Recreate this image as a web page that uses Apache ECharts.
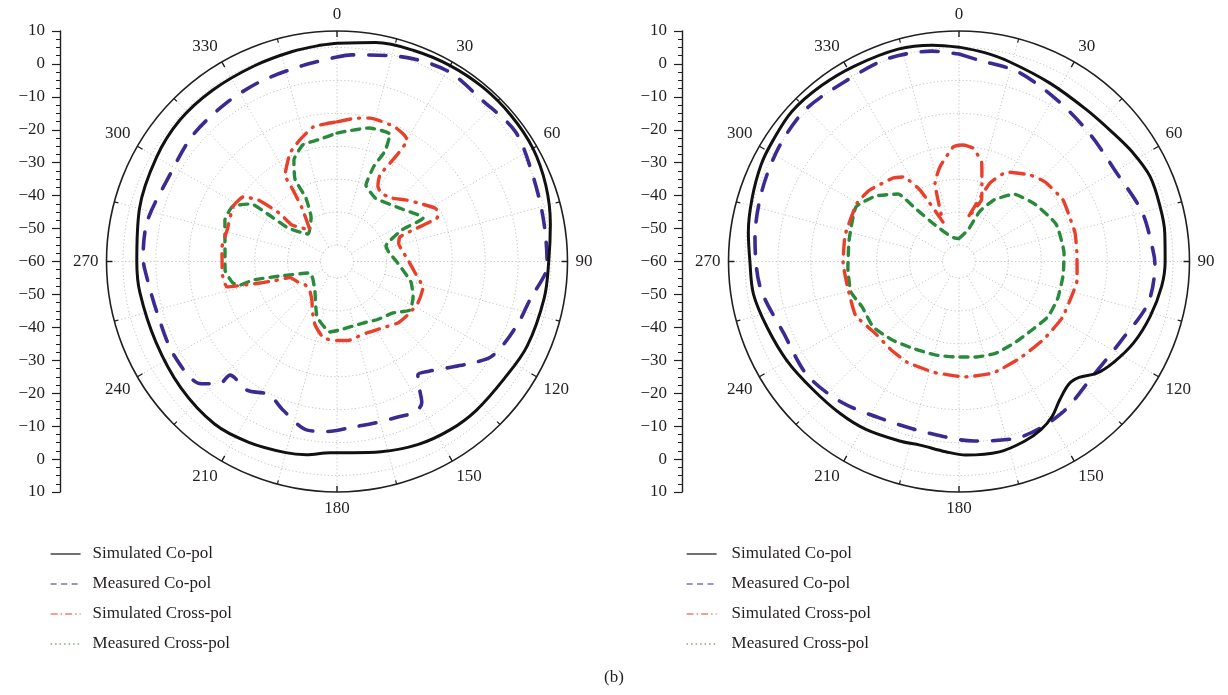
<!DOCTYPE html>
<html>
<head>
<meta charset="utf-8">
<script src="https://cdn.jsdelivr.net/npm/echarts@6/dist/echarts.min.js"></script>
<style>
  html, body { margin: 0; padding: 0; background: #ffffff; }
  #chart { width: 1228px; height: 695px; }
</style>
</head>
<body>
<div id="chart"></div>
<script>
// Radiation patterns: each point is [angle in degrees, level in dB]
// Left pattern
const leftSimCo = [[0,6.3],[10,7.5],[20,8.2],[30,8.7],[40,9.0],[50,9.0],[60,8.7],[70,7.5],[80,5.8],[90,4.3],[100,3.9],[114,3.2],[125,2.0],[137,1.9],[146,1.6],[156,0.8],[167,-0.7],[176,-1.8],[182,-1.9],[189,-0.6],[195,0.1],[206,1.1],[217,1.8],[231,1.0],[246,0.2],[261,0.6],[270,0.8],[285,2.1],[300,3.3],[312,4.2],[324,4.3],[337,4.5],[348,5.2],[356,5.9],[360,6.3]];
const leftMeasCo = [[0,2.1],[4,2.9],[17,5.1],[30,6.9],[42,5.9],[54,7.0],[66,5.0],[78,4.0],[90,3.8],[93,3.5],[101,-0.2],[108,-1.7],[116,-3.4],[122,-5.1],[128,-9.5],[134,-13.5],[140,-16.5],[144.5,-17.7],[146.5,-15.1],[149,-10],[152.6,-8.5],[158.6,-9.3],[166.8,-9.6],[174.5,-9.5],[183,-8.3],[190,-8.0],[200,-12],[207,-14.6],[215,-12.3],[223.3,-12.6],[223.8,-8.7],[228,-4.5],[240,-2.9],[254,-3.2],[267.5,-1.6],[271,-1.1],[282,-1.1],[296,-2.8],[311,-1.8],[325,-1.3],[337,-0.6],[350,0.4],[360,2.1]];
const leftSimCross = [[0,-17.6],[7,-16.2],[13,-15.3],[23,-15.5],[28,-16.5],[30,-17.4],[29.4,-22.9],[26.4,-30.7],[28.5,-34],[33,-35.3],[41,-34.5],[48,-32],[54,-29.7],[61.4,-26.1],[64,-25.8],[66.5,-26.9],[67.5,-35],[68.7,-39.5],[74,-40.5],[80,-40],[89,-38.4],[98,-36.1],[107,-32.7],[117,-32.4],[126,-33],[135,-33.7],[146,-35.6],[157,-36.5],[165,-36.3],[171,-35.8],[180,-36],[190,-36.4],[199,-39.6],[206,-43],[213,-46],[224,-48],[234,-48],[243,-46.5],[251,-45],[253,-40],[254.4,-35.7],[257,-25.7],[263,-25],[269,-25.1],[277,-24.8],[286,-25.3],[298,-24.3],[304.5,-25.4],[308,-29.6],[310,-37.3],[309,-42.4],[319.4,-47.4],[326.8,-40.6],[328.4,-34.5],[329,-29.4],[336.6,-24.1],[343,-21.4],[350,-18.5],[356,-18],[360,-17.6]];
const leftMeasCross = [[0,-21],[4.8,-20.2],[13.5,-18.3],[22.6,-18.1],[23.5,-23.4],[21.2,-28.9],[20.8,-35.2],[30.9,-37.5],[34.3,-37.4],[49.2,-35.1],[60.1,-31.6],[63.2,-30.7],[64.1,-38.1],[72.4,-44.4],[80,-44],[90.5,-41.8],[105.5,-36.7],[115,-34.5],[123.6,-33.4],[132.6,-36.9],[145,-38.5],[157,-39.7],[177.5,-39.2],[185.7,-38.5],[199.8,-42.1],[217.7,-49],[235,-51],[247,-51.1],[255.7,-42.1],[257.6,-33.9],[256.4,-29.7],[258.3,-27.7],[265.7,-25.9],[277.4,-25.7],[290.3,-23.7],[298,-24.2],[303.8,-28.6],[304.4,-35],[304.4,-42],[313.5,-47.9],[329.7,-44.4],[333.9,-38.5],[333,-31.9],[337,-26.5],[343.7,-23.1],[351.1,-22.6],[360,-21]];

// Right pattern
const rightSimCo = [[0,5.1],[7,3.9],[14,2.6],[27,0.8],[40,0.2],[50,0.9],[58,2.3],[66,3.5],[75,3.3],[82,3.1],[90,2.6],[97,2.0],[106,0.4],[115,-1.5],[123,-3.9],[129,-6.1],[134,-9.3],[138,-10],[144,-8],[149,-5.1],[154,-3.2],[160,-1.9],[168,-0.9],[178,-1.2],[184,-2.1],[192,-3.0],[198,-2.6],[209,-1.7],[218,-1.4],[229,-1.0],[240,0.3],[251,1.6],[261,3.2],[270,3.5],[278,4.6],[287,5.7],[296,6.9],[303,7.4],[312,8.2],[322,7.8],[332,7.3],[344,7.1],[353,6.2],[360,5.1]];
const rightMeasCo = [[0,3.0],[5.4,1.5],[17.3,0.3],[31.2,-2.6],[45.8,-4.5],[60.3,-5.1],[74.9,-2.4],[86.6,-1.0],[90.7,-0.5],[102.4,-1.2],[116.1,-5.2],[131,-6.5],[145.8,-4.4],[160.5,-3.5],[175.2,-5.3],[190.2,-7.1],[205,-6.9],[220,-4.3],[233.3,-2.4],[247.5,-2.5],[262.7,0.9],[276.8,2.4],[290,3.6],[302.5,4.8],[314.5,5.6],[327.4,4.7],[340.4,5.3],[352.7,4.4],[360,3.0]];
const rightSimCross = [[0,-24.7],[2,-24.6],[7,-25.3],[13,-29.3],[16.3,-35.2],[20,-40],[11.5,-46.3],[21.5,-34.4],[28.2,-29.2],[39.4,-26],[47.3,-24.4],[59.4,-23.3],[68.6,-23.8],[76.2,-23.7],[85.9,-24.1],[98.9,-23.7],[105.4,-24.1],[118.7,-24.3],[133,-25.1],[147.7,-25.3],[163,-24.6],[177.5,-24.9],[184.5,-25.4],[193.2,-25.5],[207.4,-25.6],[218,-26.2],[229.3,-26.5],[242.6,-24.6],[258.2,-25.3],[269.3,-24.8],[283.1,-24.5],[299.8,-24.3],[308.8,-25.3],[321.7,-27.7],[326.5,-29.2],[331.4,-35.3],[337.9,-47.1],[343,-35.1],[348.6,-30.7],[357,-25.2],[360,-24.7]];
const rightMeasCross = [[0,-53],[16,-50],[22.6,-43.4],[29.6,-38.5],[39.2,-33.6],[52.9,-31.1],[68.9,-28.4],[85.4,-28],[97.4,-28.1],[110.2,-28],[121.7,-28.2],[133.2,-29.6],[146,-30.1],[158,-30],[169.3,-30.5],[181.8,-31],[194.4,-30.7],[208.5,-30.1],[220.5,-28.7],[232.7,-27.2],[244.9,-27.5],[254.2,-25.9],[266.6,-26.2],[281,-26],[297.9,-24.6],[308.3,-27.9],[317.9,-32.4],[320.7,-39.4],[326.7,-46.7],[340.6,-51.8],[350,-52.8],[360,-53]];

const seriesNames = ['Simulated Co-pol', 'Measured Co-pol', 'Simulated Cross-pol', 'Measured Cross-pol'];

// Radial scale (dB) and polar grid
const radialMin = -60;
const radialMax = 10;
const radialStep = 10;
const gridRings = [-55, -45, -35, -25, -15, -5, 5];
const majorSpokes = [0, 30, 60, 90, 120, 150, 180, 210, 240, 270, 300, 330];
const minorSpokes = [15, 45, 75, 105, 135, 165, 195, 225, 255, 285, 315, 345];
const caption = '(b)';

const FONT = "'Liberation Serif', 'DejaVu Serif', serif";
const INK = '#231f20';
const GRID_GRAY = '#c4c4c4';

const styles = [
  { color: '#111111', width: 3, type: 'solid', smooth: 0.35, legendType: 'solid' },
  { color: '#3b2a92', width: 3.6, type: [17, 15], smooth: 0.3, legendType: [6, 4.5] },
  { color: '#e8402a', width: 3.4, type: [14, 8, 1, 8], smooth: 0.15, legendType: [7, 3, 1.5, 3] },
  { color: '#2a8a3c', width: 3.4, type: [8, 7], smooth: 0.15, legendType: [1.5, 3] }
];

const fmtMinus = v => (v < 0 ? '\u2212' + Math.abs(v) : String(v));
const toPolar = pts => pts.map(p => [p[1], p[0]]);

function ringData(level) {
  const out = [];
  for (let a = 0; a <= 360; a += 2) out.push([level, a]);
  return out;
}
function spokeData() {
  const out = [];
  majorSpokes.forEach(a => { out.push([gridRings[0], a], [radialMax, a], ['-', '-']); });
  minorSpokes.forEach(a => { out.push([gridRings[1], a], [radialMax, a], ['-', '-']); });
  return out;
}

const centers = [[337, 261.5], [959, 261.5]];
const RADIUS = 230.5;
const legendPlacement = [{ left: 50, textGap: 7 }, { left: 686, textGap: 10 }];
const patternSets = [
  [leftSimCo, leftMeasCo, leftSimCross, leftMeasCross],
  [rightSimCo, rightMeasCo, rightSimCross, rightMeasCross]
];

const polar = [], angleAxis = [], radiusAxis = [], grid = [], xAxis = [], yAxis = [], series = [], legend = [];

centers.forEach((c, i) => {
  polar.push({ center: c, radius: RADIUS });
  angleAxis.push({
    polarIndex: i, type: 'value', min: 0, max: 360, interval: 30,
    startAngle: 90, clockwise: true,
    axisLine: { show: true, lineStyle: { color: INK, width: 1.6 } },
    axisTick: { show: true, inside: true, length: 6, lineStyle: { color: INK, width: 1.4 } },
    minorTick: { show: true, splitNumber: 2, length: 4, lineStyle: { color: INK, width: 1.2 } },
    splitLine: { show: false },
    axisLabel: {
      margin: 8, fontFamily: FONT, fontSize: 17, color: INK,
      formatter: v => (v >= 360 ? '' : String(v))
    },
    z: 5
  });
  radiusAxis.push({
    polarIndex: i, type: 'value', min: radialMin, max: radialMax, interval: radialStep,
    axisLine: { show: false }, axisTick: { show: false }, axisLabel: { show: false },
    splitLine: { show: false }
  });

  // vertical dB scale beside each pattern
  grid.push({ left: c[0] - 277, top: c[1] - RADIUS, height: RADIUS * 2, width: 20 });
  xAxis.push({ gridIndex: i, type: 'value', show: false });
  yAxis.push({
    gridIndex: i, type: 'value',
    min: radialMin - radialMax, max: radialMax - radialMin, interval: radialStep,
    axisLine: { show: true, lineStyle: { color: INK, width: 1.4 } },
    axisTick: { show: true, inside: false, length: 8, lineStyle: { color: INK, width: 1.2 } },
    minorTick: { show: true, splitNumber: 4, length: 4, lineStyle: { color: INK, width: 1 } },
    splitLine: { show: false },
    axisLabel: {
      margin: 15, fontFamily: FONT, fontSize: 17, color: INK,
      formatter: v => fmtMinus(Math.abs(v) + radialMin)
    }
  });

  gridRings.forEach(level => {
    series.push({
      type: 'line', coordinateSystem: 'polar', polarIndex: i, silent: true,
      symbol: 'none', z: 1, data: ringData(level),
      lineStyle: { color: GRID_GRAY, width: 1, type: [1.2, 2.4] }
    });
  });
  series.push({
    type: 'line', coordinateSystem: 'polar', polarIndex: i, silent: true,
    symbol: 'none', z: 1, connectNulls: false, data: spokeData(),
    lineStyle: { color: GRID_GRAY, width: 1, type: [1.2, 2.4] }
  });

  patternSets[i].forEach((pts, k) => {
    const s = styles[k];
    series.push({
      name: seriesNames[k], type: 'line', coordinateSystem: 'polar', polarIndex: i,
      symbol: 'none', smooth: s.smooth, z: 3 + (3 - k),
      data: toPolar(pts),
      lineStyle: { color: s.color, width: s.width, type: s.type, cap: 'round', join: 'round' },
      itemStyle: { color: s.color }
    });
  });

  const lp = legendPlacement[i];
  legend.push({
    orient: 'vertical', left: lp.left, top: 544, padding: 0,
    itemWidth: 30, itemHeight: 14, itemGap: 10,
    selectedMode: false,
    textStyle: { fontFamily: FONT, fontSize: 17, color: INK, lineHeight: 20, padding: [0, 0, 0, lp.textGap] },
    data: seriesNames.map((n, k) => ({
      name: n,
      itemStyle: { opacity: 0 },
      lineStyle: { color: styles[k].color, width: 1.2, type: styles[k].legendType, cap: 'butt' }
    }))
  });
});

const chart = echarts.init(document.getElementById('chart'), null, { renderer: 'canvas' });
chart.setOption({
  backgroundColor: '#ffffff',
  animation: false,
  title: {
    text: caption, left: 'center', top: 664,
    textStyle: { fontFamily: FONT, fontSize: 17, fontWeight: 'normal', color: INK }
  },
  polar, angleAxis, radiusAxis, grid, xAxis, yAxis, legend, series
});
</script>
</body>
</html>
